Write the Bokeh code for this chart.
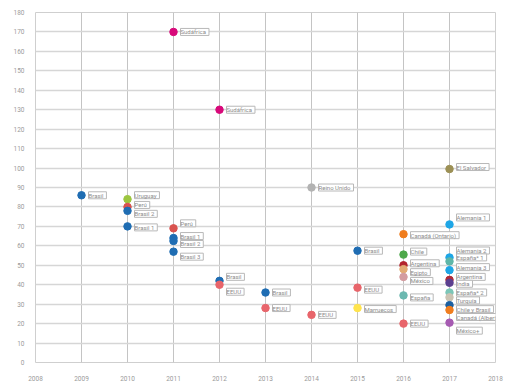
from bokeh.plotting import figure
from bokeh.models import ColumnDataSource, LabelSet, FixedTicker, Range1d
from bokeh.core.properties import value
from bokeh.embed import file_html
from bokeh.resources import INLINE

# ---- data ----
years = [2009,
         2010, 2010, 2010, 2010,
         2011, 2011, 2011, 2011, 2011,
         2012, 2012, 2012,
         2013, 2013,
         2014, 2014,
         2015, 2015, 2015,
         2016, 2016, 2016, 2016, 2016, 2016, 2016,
         2017, 2017, 2017, 2017, 2017, 2017, 2017, 2017, 2017, 2017, 2017, 2017]
values = [86,
          84, 80, 78, 70,
          170, 69, 64, 62.5, 57,
          130, 42, 40,
          36, 28,
          90, 24.5,
          57.5, 38.5, 28,
          66, 55.5, 50, 48, 44, 34.5, 20,
          99.5, 71, 54, 52, 47.5, 42.5, 41, 36, 33.5, 29.5, 27, 20.5]
names = ["Brasil",
         "Uruguay", "Perú", "Brasil 2", "Brasil 1",
         "Sudáfrica", "Perú", "Brasil 1", "Brasil 2", "Brasil 3",
         "Sudáfrica", "Brasil", "EEUU",
         "Brasil", "EEUU",
         "Reino Unido", "EEUU",
         "Brasil", "EEUU", "Marruecos",
         "Canadá (Ontario)", "Chile", "Argentina", "Egipto", "México", "España", "EEUU",
         "El Salvador", "Alemania 1", "Alemania 2", "España* 1", "Alemania 3", "Argentina",
         "India", "España* 2", "Turquía", "Chile y Brasil", "Canadá (Alberta)", "México+"]
x_ticks = [2008, 2009, 2010, 2011, 2012, 2013, 2014, 2015, 2016, 2017, 2018]
y_ticks = list(range(0, 190, 10))

# ---- styles ----
BLUE = "#1f6db3"
RED = "#e8656b"
colors = [BLUE,
          "#9cc63f", "#d9534f", BLUE, BLUE,
          "#d8097a", "#d9534f", BLUE, BLUE, BLUE,
          "#d8097a", BLUE, RED,
          BLUE, RED,
          "#b3b3b3", RED,
          BLUE, RED, "#ffe44d",
          "#f07d1e", "#4ea84b", "#b3242d", "#e2ab74", "#d49ca0", "#6cb8b0", RED,
          "#9c9055", "#1ea6e6", "#1ea6e6", "#5fb6a8", "#1ea6e6", "#b02a38",
          "#5b3f8f", "#7cc6b8", "#cbc3b3", "#1b5fa0", "#f07d1e", "#a65bb2"]
# label vertical shifts in screen px (down positive)
label_dy = [0,
            -4, -2, 3, 1,
            0, -5, -2, 3, 5,
            0, -4, 7,
            0, 0,
            0, 0,
            0, 2, 1,
            1, -3, -2, 3, 4, 2, 0,
            -2, -7, -7, -4, -3, -3, 1, 0, 3, 4, 7, 8]

src = ColumnDataSource(dict(x=years, y=values, color=colors,
                            label=[" " + n + " " for n in names],
                            yoff=[-d for d in label_dy]))

p = figure(width=510, height=382, output_backend="svg", toolbar_location=None,
           x_range=Range1d(2008, 2018), y_range=Range1d(0, 180),
           min_border_left=35, min_border_right=15, min_border_top=12, min_border_bottom=20)
p.frame_width = 460
p.frame_height = 350

p.outline_line_color = "#cfcfcf"
p.outline_line_width = 1
p.background_fill_color = "white"
p.border_fill_color = "white"

p.xaxis.ticker = FixedTicker(ticks=x_ticks)
p.yaxis.ticker = FixedTicker(ticks=y_ticks)
for ax in (p.xaxis, p.yaxis):
    ax.axis_line_color = None
    ax.major_tick_line_color = None
    ax.minor_tick_line_color = None
    ax.major_label_text_color = "#9a9a9a"
    ax.major_label_text_font = "Roboto"
    ax.major_label_text_font_size = "6.5px"
p.yaxis.major_label_standoff = 5
p.xaxis.major_label_standoff = 7

p.xgrid.grid_line_color = "#c4c4c4"
p.xgrid.grid_line_width = 1
p.ygrid.grid_line_color = "#d6d6d6"
p.ygrid.grid_line_width = 1.3

p.scatter("x", "y", source=src, size=7.5, fill_color="color", line_color="color")

labels = LabelSet(x="x", y="y", text="label", source=src,
                  x_offset=7, y_offset="yoff",
                  text_align="left", text_baseline="middle",
                  text_font=value("Roboto"), text_font_size="6px",
                  text_color="#8c8c8c",
                  background_fill_color="white", border_line_color="#b8b8b8",
                  border_line_width=1)
p.add_layout(labels)

open("out.html", "w").write(file_html(p, INLINE))
